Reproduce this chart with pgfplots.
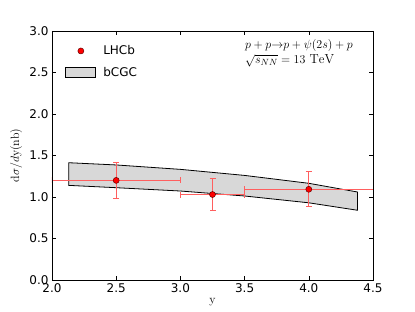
\documentclass[border=0pt]{standalone}
\usepackage{fontspec}
\usepackage{pgfplots}
\pgfplotsset{compat=1.18}
\newfontfamily\dejavu{DejaVu Sans}
\definecolor{bandgray}{RGB}{216,216,216}
\definecolor{errred}{RGB}{255,95,95}
\begin{document}
\begin{tikzpicture}
\useasboundingbox (-52pt,-32pt) rectangle (363pt,280pt);
\begin{axis}[
  scale only axis,
  width=321pt, height=249pt,
  xmin=2.0, xmax=4.5, ymin=0, ymax=3.0,
  xtick={2.0,2.5,...,4.5},
  ytick={0,0.5,...,3.0},
  tick align=inside,
  major tick length=4pt,
  minor tick num=0,
  axis line style={line width=0.8pt},
  tick style={black, line width=0.6pt},
  ticklabel style={font=\dejavu\fontsize{12}{14}\selectfont},
  /pgf/number format/assume math mode=true,
  /pgf/number format/.cd, fixed, fixed zerofill, precision=1,
  /pgfplots/.cd,
  xlabel={$\mathrm{y}$},
  ylabel={$\mathrm{d}\sigma/d\mathrm{y}(\mathrm{nb})$},
  label style={font=\fontsize{12}{14}\selectfont},
  x label style={at={(axis description cs:0.5,-0.088)}, anchor=center},
  y label style={at={(axis description cs:-0.112,0.5)}, anchor=center, rotate=0},
  legend style={at={(axis description cs:0.032,0.958)}, anchor=north west, draw=none, fill=none,
    font=\dejavu\fontsize{12}{14}\selectfont, row sep=7pt,
    /tikz/every odd column/.style={column sep=5pt}},
  legend cell align=left,
  axis on top=true,
]
\addplot[fill=bandgray, draw=black, line width=0.8pt, forget plot] coordinates {
 (2.13,1.413) (2.5,1.386) (3.0,1.333) (3.5,1.26) (4.0,1.165) (4.38,1.06)
 (4.38,0.84) (4.0,0.93) (3.5,1.012) (3.0,1.072) (2.5,1.112) (2.13,1.14)
} -- cycle;
% right half of the last point's x error, no cap (it ends on the frame)
\addplot[draw=none, forget plot,
  error bars/.cd, x dir=plus, x explicit, error mark=none,
  error bar style={draw=errred, line width=1.2pt}]
  coordinates {
  (4.0,1.093) +- (0.5,0)
};
\addplot[only marks, mark=*, mark size=3pt, mark options={fill=red, draw=black!60!red, line width=0.5pt},
  forget plot,
  error bars/.cd, x dir=minus, y dir=both, x explicit, y explicit,
  error bar style={draw=errred, line width=1.2pt},
  error mark options={draw=errred, line width=1.2pt, mark size=3pt, rotate=90}]
  coordinates {
  (4.0,1.093) +- (0.5,0.21)
};
\addplot[only marks, mark=*, mark size=3pt, mark options={fill=red, draw=black!60!red, line width=0.5pt},
  forget plot,
  error bars/.cd, x dir=both, y dir=both, x explicit, y explicit,
  error bar style={draw=errred, line width=1.2pt},
  error mark options={draw=errred, line width=1.2pt, mark size=3pt, rotate=90}]
  coordinates {
  (2.5,1.20) +- (0.5,0.22)
  (3.25,1.03) +- (0.25,0.19)
};
\addlegendimage{legend image code/.code={\draw[fill=red, draw=black!60!red, line width=0.5pt] (15pt,0pt) circle (3pt);}}
\addlegendimage{legend image code/.code={\draw[fill=bandgray, draw=black, line width=0.8pt] (0pt,-5pt) rectangle (30pt,5pt);}}
\legend{LHCb, bCGC}
\node[anchor=north west, align=left, inner sep=0pt, font=\fontsize{13}{15}\selectfont] at (axis description cs:0.601,0.968)
  {$p+p{\rightarrow}p+\psi(2s)+p$\\ $\sqrt{s_{NN}}=13\ \mathrm{TeV}$};
\end{axis}
\end{tikzpicture}
\end{document}
